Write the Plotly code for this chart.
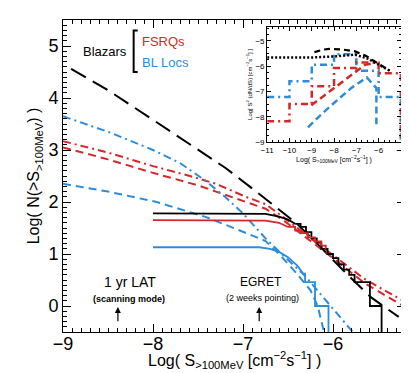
import plotly.graph_objects as go

# ---------------- main panel data ----------------
blz_model_x = [-8.91, -8.5, -8.0, -7.5, -7.19, -6.89, -6.64, -6.4, -6.13, -5.85, -5.58, -5.27]
blz_model_y = [4.56, 4.15, 3.58, 3.0, 2.65, 2.25, 1.9, 1.58, 1.12, 0.62, 0.17, -0.21]

fsrq_dd_x = [-9.0, -8.5, -8.0, -7.59, -7.3, -6.97, -6.75, -6.56, -6.3, -6.0, -5.65, -5.2]
fsrq_dd_y = [3.17, 2.95, 2.69, 2.5, 2.35, 2.1, 1.96, 1.72, 1.37, 0.97, 0.52, 0.08]
fsrq_da_x = [-9.0, -8.5, -8.0, -7.5, -7.3, -6.97, -6.75, -6.56, -6.3, -6.0, -5.65, -5.2]
fsrq_da_y = [3.05, 2.82, 2.56, 2.32, 2.2, 2.0, 1.87, 1.66, 1.32, 0.92, 0.44, -0.02]

bll_dd_x = [-9.0, -8.5, -8.0, -7.7, -7.41, -7.2, -7.0, -6.75, -6.6, -6.31, -6.1, -5.84, -5.78]
bll_dd_y = [3.65, 3.35, 3.0, 2.75, 2.4, 2.1, 1.78, 1.3, 1.05, 0.58, 0.15, -0.38, -0.5]
bll_da_x = [-9.0, -8.5, -7.96, -7.41, -6.86, -6.75, -6.6, -6.4, -6.25, -6.17, -6.1]
bll_da_y = [2.35, 2.2, 2.0, 1.71, 1.33, 1.25, 1.0, 0.62, 0.3, 0.0, -0.5]

lat_blz_x = [-8.0, -7.0, -6.75, -6.6, -6.5, -6.42]
lat_blz_y = [1.78, 1.78, 1.77, 1.72, 1.66, 1.58]
lat_fsrq_x = [-8.0, -7.0, -6.75, -6.6, -6.5]
lat_fsrq_y = [1.65, 1.65, 1.64, 1.6, 1.52]
lat_bll_x = [-8.0, -6.82, -6.7, -6.6, -6.5, -6.4, -6.33]
lat_bll_y = [1.13, 1.13, 1.1, 1.04, 0.94, 0.78, 0.62]

egret_blz_x = [-6.42, -6.36, -6.30, -6.24, -6.18, -6.13, -6.06, -6.0, -5.94, -5.88, -5.82, -5.76, -5.59, -5.46]
egret_blz_y = [1.58, 1.52, 1.42, 1.30, 1.22, 1.10, 1.0, 0.92, 0.80, 0.70, 0.60, 0.46, 0.0, -0.5]
egret_fsrq_x = [-6.5, -6.42, -6.35, -6.28, -6.2, -6.13, -6.08]
egret_fsrq_y = [1.52, 1.45, 1.40, 1.32, 1.24, 1.16, 1.10]
egret_bll_x = [-6.33, -6.31, -6.2, -6.05]
egret_bll_y = [0.62, 0.46, 0.0, -0.5]

xticks_main = [-9, -8, -7, -6]
yticks_main = [0, 1, 2, 3, 4, 5]

# ---------------- inset data ----------------
in_tot_dot_x = [-11, -10, -9, -8, -7.05, -6.5, -6.0, -5.44]
in_tot_dot_y = [-5.66, -5.66, -5.66, -5.62, -5.55, -5.7, -5.95, -6.21]
in_tot_dash_x = [-8.88, -8.5, -8.2, -7.6, -7.05, -6.6, -6.17, -5.5]
in_tot_dash_y = [-5.45, -5.35, -5.32, -5.35, -5.42, -5.58, -5.82, -6.18]
in_bll_step_x = [-11, -10, -9, -8, -7, -6, -5, -5]
in_bll_step_y = [-7.22, -6.6, -5.95, -5.53, -6.18, -7.22, -7.22, -9]
in_fsrq_step_x = [-11, -10, -9, -8, -7, -6, -5, -5]
in_fsrq_step_y = [-8.18, -7.5, -6.8, -6.08, -5.86, -6.28, -6.28, -9]
in_fsrq_da_x = [-9.02, -8.5, -8.0, -7.5, -7.05, -6.61, -6.3]
in_fsrq_da_y = [-7.55, -7.2, -6.87, -6.55, -6.21, -5.95, -5.9]
in_bll_da_x = [-9.17, -8.5, -7.8, -7.2, -6.53, -6.1, -6.1]
in_bll_da_y = [-8.42, -7.85, -7.3, -6.85, -6.45, -6.87, -8.3]

xticks_in = [-11, -10, -9, -8, -7, -6, -5]
yticks_in = [-9, -8, -7, -6, -5]

RED = "rgb(214,38,40)"
BLUE = "rgb(44,140,218)"
BLACK = "black"
FONT = "Liberation Sans, Arial, sans-serif"

fig = go.Figure()

def add(x, y, color, dash="solid", width=2, shape="linear", xa="x", ya="y"):
    fig.add_trace(go.Scatter(x=x, y=y, mode="lines", xaxis=xa, yaxis=ya,
                             line=dict(color=color, dash=dash, width=width, shape=shape),
                             showlegend=False, hoverinfo="skip"))

# main models
add(blz_model_x, blz_model_y, BLACK, "17px,8px", 2)
add(fsrq_dd_x, fsrq_dd_y, RED, "8px,4px,2px,4px", 2)
add(fsrq_da_x, fsrq_da_y, RED, "8px,5px", 2)
add(bll_dd_x, bll_dd_y, BLUE, "8px,4px,2px,4px", 2)
add(bll_da_x, bll_da_y, BLUE, "8px,5px", 2)
# LAT predictions
add(lat_blz_x, lat_blz_y, BLACK, "solid", 1.8)
add(lat_fsrq_x, lat_fsrq_y, RED, "solid", 1.8)
add(lat_bll_x, lat_bll_y, BLUE, "solid", 1.8)
# EGRET histograms
add(egret_blz_x, egret_blz_y, BLACK, "solid", 1.8, "hv")
add(egret_fsrq_x, egret_fsrq_y, RED, "solid", 1.8, "hv")
add(egret_bll_x, egret_bll_y, BLUE, "solid", 1.8, "hv")

# inset
add(in_bll_step_x, in_bll_step_y, BLUE, "7px,4px,2px,4px", 2.5, "hv", "x2", "y2")
add(in_fsrq_step_x, in_fsrq_step_y, RED, "7px,4px,2px,4px", 2.5, "hv", "x2", "y2")
add(in_fsrq_da_x, in_fsrq_da_y, RED, "7px,4px", 2.5, "linear", "x2", "y2")
add(in_bll_da_x, in_bll_da_y, BLUE, "7px,4px", 2.5, "linear", "x2", "y2")
add(in_tot_dot_x, in_tot_dot_y, BLACK, "2px,2px", 2.5, "linear", "x2", "y2")
add(in_tot_dash_x, in_tot_dash_y, BLACK, "6px,4px", 2.2, "linear", "x2", "y2")

axis_common = dict(showgrid=False, zeroline=False, showline=True, linecolor="black",
                   linewidth=1, mirror="allticks", ticks="inside", tickcolor="black")

fig.update_layout(
    width=409, height=373,
    margin=dict(l=55, r=7, t=12, b=49),
    paper_bgcolor="white", plot_bgcolor="white",
    font=dict(family=FONT, color="black"),
    xaxis=dict(range=[-9, -5.2], domain=[0, 1], tickvals=xticks_main, ticklen=8,
               tickfont=dict(size=18), anchor="y", ticklabelstandoff=-5,
               minor=dict(dtick=0.1, ticklen=4, ticks="inside", tickcolor="black"),
               **axis_common),
    yaxis=dict(range=[-0.5, 5.5], domain=[0, 1], tickvals=yticks_main, ticklen=8,
               tickfont=dict(size=18), anchor="x",
               minor=dict(dtick=0.1, ticklen=4, ticks="inside", tickcolor="black"),
               title=dict(text="Log( N(&gt;S<sub>&gt;100MeV</sub>) )",
                          font=dict(size=16), standoff=4),
               **axis_common),
    xaxis2=dict(range=[-11, -5], domain=[0.597, 0.988], anchor="y2", tickvals=xticks_in,
                ticklen=4, tickfont=dict(size=8),
                minor=dict(dtick=0.25, ticklen=2, ticks="inside", tickcolor="black"),
                title=dict(text="Log( S<sub>&gt;100MeV</sub> [cm<sup>−2</sup>s<sup>−1</sup>] )",
                           font=dict(size=7), standoff=1),
                **axis_common),
    yaxis2=dict(range=[-9, -4.45], domain=[0.609, 0.978], anchor="x2", tickvals=yticks_in,
                ticklen=4, tickfont=dict(size=8),
                minor=dict(dtick=0.25, ticklen=2, ticks="inside", tickcolor="black"),
                title=dict(text="Log[ S<sup>2</sup> (dN/dS) [cm<sup>−2</sup>s<sup>−1</sup>] ]",
                           font=dict(size=6), standoff=2),
                **axis_common),
)

# main x-axis title (placed as annotation so the subscript stays inside the page)
fig.add_annotation(x=0.5, y=-0.09, xref="paper", yref="paper", yanchor="middle",
                   text="Log( S<sub>&gt;100MeV</sub> [cm<sup>−2</sup>s<sup>−1</sup>] )",
                   showarrow=False, font=dict(size=16))

# legend-like labels
fig.add_annotation(x=-8.53, y=4.9, xref="x", yref="y", text="Blazars", showarrow=False,
                   font=dict(size=13, color="black"))
fig.add_annotation(x=-8.15, y=5.08, xref="x", yref="y", text="FSRQs", showarrow=False,
                   xanchor="left", font=dict(size=13, color=RED))
fig.add_annotation(x=-8.15, y=4.69, xref="x", yref="y", text="BL Locs", showarrow=False,
                   xanchor="left", font=dict(size=13, color=BLUE))
fig.add_shape(type="path", xref="x", yref="y",
              path="M -8.17 5.3 L -8.215 5.3 L -8.215 4.5 L -8.17 4.5",
              line=dict(color="black", width=2))

# sensitivity annotations
fig.add_annotation(x=-8.26, y=0.47, xref="x", yref="y", text="1 yr LAT", showarrow=False,
                   font=dict(size=14))
fig.add_annotation(x=-8.27, y=0.13, xref="x", yref="y", text="<b>(scanning mode)</b>",
                   showarrow=False, font=dict(size=9))
fig.add_annotation(x=-8.39, y=-0.02, ax=-8.39, ay=-0.32, xref="x", yref="y",
                   axref="x", ayref="y", text="", showarrow=True, arrowhead=2,
                   arrowsize=1, arrowwidth=1.2, arrowcolor="black")
fig.add_annotation(x=-6.8, y=0.46, xref="x", yref="y", text="EGRET", showarrow=False,
                   font=dict(size=12))
fig.add_annotation(x=-6.78, y=0.15, xref="x", yref="y", text="(2 weeks pointing)",
                   showarrow=False, font=dict(size=9))
fig.add_annotation(x=-6.82, y=-0.02, ax=-6.82, ay=-0.32, xref="x", yref="y",
                   axref="x", ayref="y", text="", showarrow=True, arrowhead=2,
                   arrowsize=1, arrowwidth=1.2, arrowcolor="black")

fig.write_html("out.html")
